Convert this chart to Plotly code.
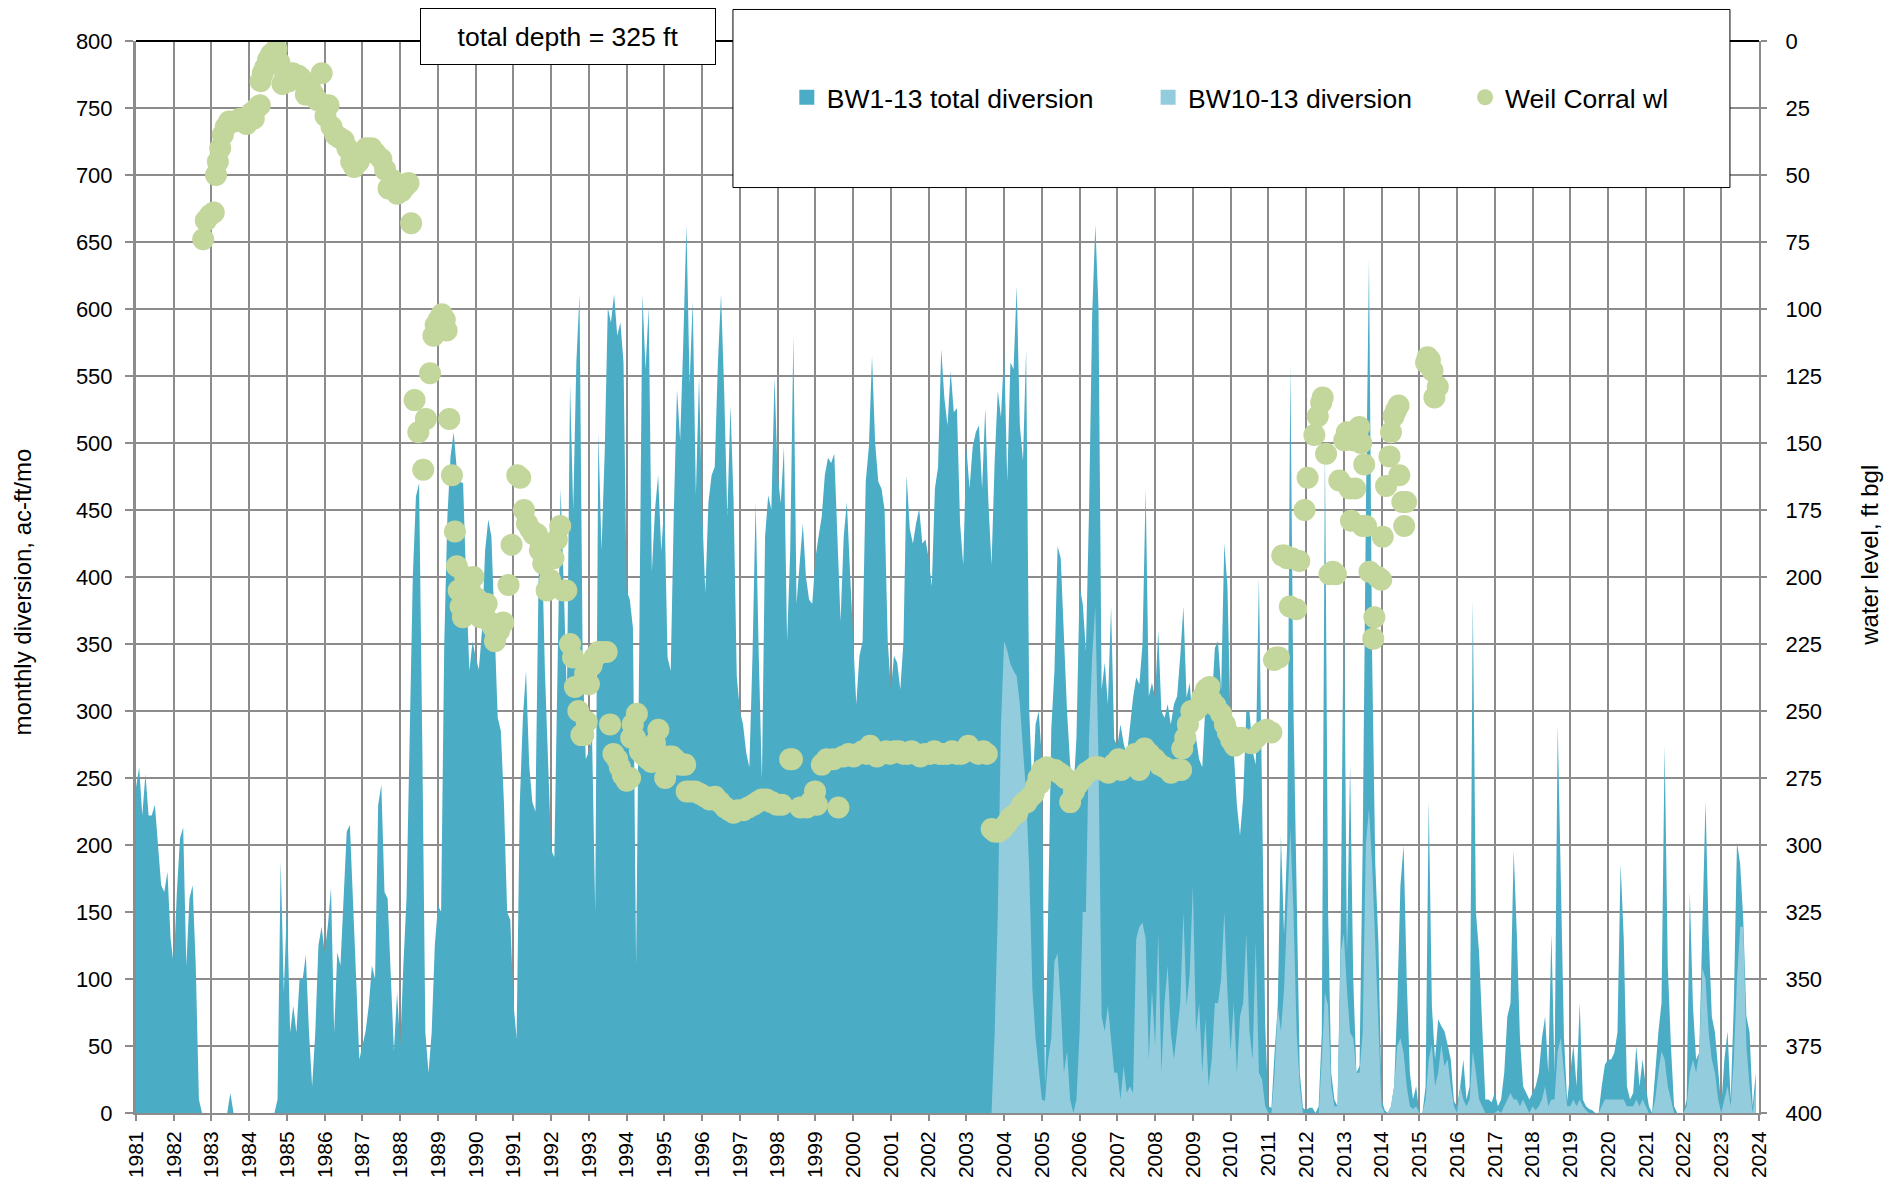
import plotly.graph_objects as go

# ---------------------------------------------------------------------------
# Monthly diversion, ac-ft/mo (Jan..Dec for each year)
# ---------------------------------------------------------------------------
total_1980s = [
    243, 258, 222, 253, 222, 222, 230, 200, 170, 165, 180, 130,   # 1981
    110, 165, 205, 213, 110, 160, 170, 110, 10, 0, 0, 0,          # 1982
    0, 0, 0, 0, 0, 0, 15, 0, 0, 0, 0, 0,                          # 1983
    0, 0, 0, 0, 0, 0, 0, 0, 0, 10, 188, 90,                       # 1984
    155, 60, 80, 60, 100, 100, 118, 60, 20, 60, 125, 139,         # 1985
    120, 140, 168, 60, 120, 110, 160, 210, 215, 150, 100, 40,     # 1986
    50, 61, 80, 110, 100, 230, 245, 165, 160, 100, 46, 90,        # 1987
    50, 110, 160, 280, 400, 460, 470, 280, 60, 30, 60, 125,       # 1988
    155, 150, 350, 445, 490, 508, 480, 471, 470, 393, 330, 352,   # 1989
]
total_1990s = [
    340, 331, 360, 420, 443, 430, 360, 295, 285, 230, 150, 144,   # 1990
    82, 56, 230, 295, 330, 260, 232, 225, 400, 430, 330, 270,     # 1991
    196, 191, 340, 466, 393, 310, 544, 450, 560, 611, 341, 264,   # 1992
    270, 280, 150, 508, 420, 492, 601, 590, 611, 580, 590, 560,   # 1993
    390, 383, 362, 110, 350, 611, 555, 601, 404, 450, 476, 419,   # 1994
    456, 340, 330, 450, 540, 502, 575, 663, 544, 606, 461, 549,   # 1995
    450, 388, 456, 476, 482, 560, 611, 539, 445, 528, 456, 326,   # 1996
    300, 290, 269, 258, 341, 456, 341, 248, 430, 461, 450, 549,   # 1997
    476, 455, 497, 352, 420, 580, 380, 414, 440, 400, 383, 380,   # 1998
    414, 430, 445, 476, 489, 485, 492, 430, 367, 430, 456, 404,   # 1999
]
total_2000s = [
    352, 305, 341, 352, 471, 497, 565, 500, 471, 466, 450, 352,   # 2000
    316, 341, 336, 316, 352, 476, 436, 425, 440, 451, 425, 428,   # 2001
    414, 393, 466, 482, 570, 534, 513, 554, 523, 526, 440, 409,   # 2002
    497, 466, 497, 508, 513, 466, 526, 456, 409, 487, 539, 519,   # 2003
    570, 471, 560, 555, 617, 513, 487, 570, 300, 240, 290, 300,   # 2004
    264, 20, 150, 287, 330, 423, 414, 360, 300, 260, 238, 280,    # 2005
    393, 380, 345, 450, 596, 663, 601, 316, 336, 305, 378, 279,   # 2006
    274, 290, 276, 266, 290, 310, 325, 320, 350, 466, 311, 321,   # 2007
    310, 360, 300, 295, 305, 290, 305, 311, 341, 378, 310, 321,   # 2008
    290, 280, 264, 258, 305, 300, 305, 347, 352, 316, 425, 393,   # 2009
]
total_2010s = [
    290, 270, 230, 207, 235, 300, 300, 270, 260, 399, 238, 66,    # 2010
    5, 4, 46, 80, 207, 134, 202, 559, 300, 150, 30, 4,            # 2011
    2, 4, 4, 0, 5, 60, 497, 150, 30, 10, 5, 134,                  # 2012
    393, 120, 260, 100, 30, 35, 200, 445, 637, 341, 186, 127,     # 2013
    10, 2, 0, 5, 20, 82, 170, 200, 100, 30, 10, 20,               # 2014
    0, 0, 20, 233, 80, 40, 70, 65, 61, 51, 40, 9,                 # 2015
    5, 20, 40, 10, 20, 383, 150, 120, 60, 10, 10, 8,              # 2016
    15, 5, 10, 30, 72, 82, 196, 134, 56, 20, 15, 10,              # 2017
    15, 20, 30, 56, 72, 30, 134, 30, 290, 160, 56, 9,             # 2018
    30, 51, 20, 82, 10, 5, 3, 2, 0, 0, 20, 36,                    # 2019
]
total_2020s = [
    40, 40, 45, 60, 186, 130, 20, 10, 15, 50, 20, 40,             # 2020
    20, 5, 0, 30, 60, 82, 274, 110, 50, 5, 0, 0,                  # 2021
    0, 10, 165, 80, 40, 45, 150, 233, 134, 72, 60, 30,            # 2022
    5, 40, 61, 10, 82, 202, 186, 144, 72, 60, 5, 30,              # 2023
]

# BW10-13 share of the diversion, from 2003 on
bw10_2000s = [
    0, 0, 0, 0, 0, 0, 0, 0, 0, 60, 150, 290,                      # 2003
    352, 345, 335, 330, 326, 305, 270, 238, 180, 92, 56, 30,      # 2004
    10, 9, 40, 56, 113, 119, 82, 30, 46, 10, 0, 10,               # 2005
    60, 150, 150, 280, 341, 378, 264, 72, 61, 80, 56, 30,         # 2006
    30, 10, 35, 15, 20, 15, 130, 139, 142, 130, 40, 92,           # 2007
    50, 134, 30, 82, 110, 60, 40, 60, 82, 150, 80, 103,           # 2008
    170, 60, 82, 30, 70, 20, 40, 82, 82, 100, 150, 90,            # 2009
]
bw10_2010s = [
    46, 82, 30, 72, 82, 134, 61, 40, 128, 30, 25, 5,              # 2010
    0, 0, 30, 80, 61, 92, 150, 212, 150, 60, 20, 0,               # 2011
    0, 0, 0, 0, 0, 40, 90, 80, 20, 5, 5, 120,                     # 2012
    134, 92, 60, 56, 30, 30, 60, 200, 227, 186, 129, 60,          # 2013
    5, 0, 0, 5, 20, 50, 56, 45, 20, 5, 3, 5,                      # 2014
    0, 0, 10, 40, 51, 20, 30, 51, 35, 40, 20, 5,                  # 2015
    0, 20, 10, 5, 10, 46, 30, 10, 5, 0, 0, 0,                     # 2016
    0, 2, 0, 5, 10, 15, 10, 10, 5, 10, 5, 0,                      # 2017
    5, 2, 5, 10, 20, 5, 10, 10, 46, 56, 30, 5,                    # 2018
    5, 10, 5, 10, 5, 2, 0, 0, 0, 0, 5, 10,                        # 2019
]
bw10_2020s = [
    10, 10, 10, 10, 10, 10, 5, 5, 5, 10, 5, 10,                   # 2020
    5, 0, 0, 10, 30, 46, 40, 20, 10, 0, 0, 0,                     # 2021
    0, 5, 30, 40, 30, 45, 108, 100, 60, 40, 30, 10,               # 2022
    0, 10, 20, 5, 40, 100, 139, 139, 50, 20, 0, 20,               # 2023
]

# Weil Corral well: measurement date (decimal year) and depth to water, ft bgl
wl_date = [
    1982.78, 1982.85, 1982.96, 1983.06, 1983.12, 1983.17, 1983.23, 1983.30, 1983.38, 1983.47,
    1983.60, 1983.76, 1983.93, 1984.05, 1984.12, 1984.20, 1984.28, 1984.30, 1984.36, 1984.42,
    1984.50, 1984.58, 1984.66, 1984.72, 1984.80, 1984.88, 1984.95, 1985.05, 1985.15, 1985.30,
    1985.38, 1985.50, 1985.62, 1985.70, 1985.80, 1985.92, 1986.02, 1986.10, 1986.18, 1986.28,
    1986.38, 1986.50, 1986.60, 1986.70, 1986.78, 1986.90, 1987.00, 1987.10, 1987.24, 1987.35,
    1987.50, 1987.60, 1987.69, 1987.80, 1987.92, 1988.04, 1988.15, 1988.22, 1988.29,
    1988.38, 1988.48, 1988.61, 1988.68, 1988.79, 1988.88, 1988.94, 1989.02, 1989.10, 1989.18,
    1989.23, 1989.30, 1989.37, 1989.45, 1989.50, 1989.55, 1989.60, 1989.66, 1989.72, 1989.76,
    1989.85, 1989.94, 1990.03, 1990.12, 1990.22, 1990.29, 1990.38, 1990.47, 1990.51, 1990.62,
    1990.73, 1990.87, 1990.95, 1991.10, 1991.18, 1991.28, 1991.36, 1991.44, 1991.53, 1991.62,
    1991.70, 1991.79, 1991.88, 1991.97, 1992.06, 1992.15, 1992.24, 1992.32, 1992.40, 1992.50,
    1992.58, 1992.63, 1992.72, 1992.80, 1992.85, 1992.90, 1992.94, 1993.00, 1993.07, 1993.15,
    1993.25, 1993.35, 1993.47, 1993.56, 1993.65, 1993.75, 1993.82, 1993.90, 1994.00, 1994.09,
    1994.12, 1994.16, 1994.22, 1994.27, 1994.35, 1994.42, 1994.49, 1994.57, 1994.66, 1994.75,
    1994.84, 1994.93, 1995.02, 1995.11, 1995.20, 1995.28, 1995.40, 1995.50, 1995.55, 1995.59,
    1995.70, 1995.81, 1995.95, 1996.08, 1996.20, 1996.34, 1996.47, 1996.61, 1996.72, 1996.83,
    1996.95, 1997.09, 1997.22, 1997.36, 1997.47, 1997.58, 1997.70, 1997.84, 1997.98, 1998.11,
    1998.33, 1998.38, 1998.60, 1998.77, 1998.88, 1998.99, 1999.04, 1999.17, 1999.30, 1999.48,
    1999.61, 1999.74, 1999.88, 2000.01, 2000.12, 2000.25, 2000.35, 2000.45, 2000.55, 2000.63,
    2000.75, 2000.87, 2000.98, 2001.10, 2001.22, 2001.33, 2001.45, 2001.55, 2001.67, 2001.78,
    2001.90, 2002.04, 2002.15, 2002.28, 2002.39, 2002.50, 2002.62, 2002.75, 2002.87, 2003.05,
    2003.20, 2003.32, 2003.45, 2003.54, 2003.67, 2003.76, 2003.85, 2003.95, 2004.07, 2004.16,
    2004.25, 2004.35, 2004.47, 2004.55, 2004.60, 2004.70, 2004.78, 2004.85, 2004.91, 2004.95,
    2005.01, 2005.13, 2005.25, 2005.35, 2005.45, 2005.55, 2005.62, 2005.75, 2005.85, 2005.97,
    2006.08, 2006.19, 2006.30, 2006.40, 2006.50, 2006.62, 2006.76, 2006.90, 2007.03, 2007.10,
    2007.22, 2007.36, 2007.47, 2007.58, 2007.72, 2007.85, 2008.00, 2008.12, 2008.25, 2008.42,
    2008.55, 2008.69, 2008.72, 2008.80, 2008.87, 2008.96, 2009.05, 2009.13, 2009.25, 2009.35,
    2009.44, 2009.49, 2009.60, 2009.75, 2009.85, 2009.93, 2010.02, 2010.11, 2010.20, 2010.28,
    2010.40, 2010.55, 2010.68, 2010.81, 2010.95, 2011.08, 2011.15, 2011.21, 2011.28, 2011.37,
    2011.43, 2011.50, 2011.57, 2011.62, 2011.74, 2011.82, 2011.96, 2012.04, 2012.22, 2012.31,
    2012.40, 2012.44, 2012.53, 2012.62, 2012.71, 2012.79, 2012.88, 2013.01, 2013.08, 2013.15,
    2013.19, 2013.24, 2013.30, 2013.41, 2013.46, 2013.50, 2013.54, 2013.59, 2013.68, 2013.78,
    2013.81, 2013.90, 2013.99, 2014.03, 2014.12, 2014.21, 2014.25, 2014.32, 2014.38, 2014.45,
    2014.47, 2014.55, 2014.60, 2014.65, 2015.18, 2015.22, 2015.28, 2015.35, 2015.40, 2015.49,
]
wl_depth = [
    74, 67, 65, 64, 50, 45, 40, 35, 32, 30,
    30, 29, 31, 27, 29, 25, 24, 15, 12, 10,
    7, 5, 4, 3, 8, 16, 12, 15, 12, 13,
    14, 20, 18, 20, 22, 12, 28, 24, 32, 35,
    36, 37, 40, 45, 47, 45, 42, 40, 40, 42,
    44, 48, 55, 52, 57, 56, 54, 53, 68,
    134, 146, 160, 141, 124, 110, 106, 104, 102, 104,
    108, 141, 162, 183, 196, 205, 211, 215, 200, 211,
    205, 200, 208, 215, 212, 210, 217, 219, 224, 220,
    217, 203, 188, 162, 163, 175, 180, 182, 184, 184,
    190, 195, 205, 201, 193, 186, 181, 205, 205, 225,
    230, 241, 250, 259, 259, 236, 254, 240, 233, 230,
    228, 228, 228, 255, 266, 268, 271, 274, 276, 275,
    260, 255, 260, 251, 265, 266, 267, 268, 269, 262,
    257, 268, 275, 267, 267, 268, 270, 270, 270, 280,
    280, 280, 281, 282, 283, 282, 284, 286, 287, 288,
    287, 287, 286, 285, 284, 283, 283, 284, 285, 285,
    268, 268, 286, 286, 284, 280, 285, 270, 268, 268,
    286, 267, 266, 267, 266, 265, 266, 263, 265, 267,
    266, 265, 266, 265, 265, 266, 266, 265, 266, 267,
    266, 266, 265, 266, 266, 266, 265, 266, 266, 263,
    265, 266, 265, 266, 294, 295, 295, 294, 292, 290,
    289, 288, 285, 284, 284, 282, 281, 278, 275, 277,
    272, 271, 272, 272, 273, 274, 275, 284, 280, 277,
    275, 273, 272, 271, 271, 272, 273, 270, 268, 272,
    270, 268, 266, 272, 264, 266, 268, 270, 271, 273,
    272, 272, 264, 260, 255, 250, 250, 249, 245, 242,
    241, 246, 248, 251, 255, 258, 261, 263, 262, 260,
    261, 262, 260, 258, 257, 258, 231, 230, 230, 192,
    192, 193, 211, 193, 212, 194, 175, 163, 147, 140,
    135, 133, 154, 199, 198, 199, 164, 149, 146, 167,
    179, 149, 167, 144, 150, 181, 158, 181, 198, 223,
    215, 200, 201, 185, 166, 155, 146, 140, 138, 136,
    162, 172, 181, 172, 120, 118, 119, 123, 133, 129,
]

years = list(range(1981, 2024))
year_ticks = list(range(1981, 2025))

FONT = "Liberation Sans, Arial, Helvetica, sans-serif"
TEAL = "#4BACC6"
LIGHT = "#93CDDD"
GREEN = "#C3D69B"
GRID = "#8C8C8C"

# one x position per month, at the start of the month
month_x = [y + m / 12 for y in years for m in range(12)]
total = total_1980s + total_1990s + total_2000s + total_2010s + total_2020s
bw10 = bw10_2000s + bw10_2010s + bw10_2020s
bw10_x = [x for x in month_x if x >= 2003]

fig = go.Figure()

fig.add_trace(go.Scatter(
    x=month_x, y=total, mode="lines", line=dict(width=0, color=TEAL),
    fill="tozeroy", fillcolor=TEAL, name="BW1-13 total diversion",
    legendgroup="total", showlegend=False,
))
fig.add_trace(go.Scatter(
    x=bw10_x, y=bw10, mode="lines", line=dict(width=0, color=LIGHT),
    fill="tozeroy", fillcolor=LIGHT, name="BW10-13 diversion",
    legendgroup="bw10", showlegend=False,
))
fig.add_trace(go.Scatter(
    x=wl_date, y=wl_depth, yaxis="y2", mode="markers",
    marker=dict(size=22, color=GREEN, line=dict(width=0)),
    name="Weil Corral wl", legend="legend3",
))

# square legend keys for the two area series
fig.add_trace(go.Scatter(
    x=[None], y=[None], mode="markers",
    marker=dict(symbol="square", size=15, color=TEAL),
    name="BW1-13 total diversion", legendgroup="total", legend="legend",
))
fig.add_trace(go.Scatter(
    x=[None], y=[None], mode="markers",
    marker=dict(symbol="square", size=15, color=LIGHT),
    name="BW10-13 diversion", legendgroup="bw10", legend="legend2",
))

legend_common = dict(
    y=0.9473, xanchor="left", yanchor="middle", bgcolor="rgba(0,0,0,0)",
    borderwidth=0, font=dict(family=FONT, size=26.5, color="#000000"),
    orientation="h",
)

fig.update_layout(
    width=1904, height=1185,
    margin=dict(l=136, r=145, t=41, b=72),
    paper_bgcolor="white", plot_bgcolor="white",
    font=dict(family=FONT, size=22, color="#000000"),
    showlegend=True,
    legend=dict(x=0.401, **legend_common),
    legend2=dict(x=0.6236, **legend_common),
    legend3=dict(x=0.8189, **legend_common),
    xaxis=dict(
        range=[1981, 2024], tickmode="array", tickvals=year_ticks,
        ticktext=[str(y) for y in year_ticks], tickangle=-90,
        showgrid=True, gridcolor=GRID, gridwidth=2,
        ticks="outside", ticklen=6, tickcolor=GRID, tickwidth=2,
        showline=True, linecolor=GRID, linewidth=2, zeroline=False,
        tickfont=dict(size=21), ticklabelstandoff=2, automargin=False,
    ),
    yaxis=dict(
        range=[0, 800], tickmode="linear", tick0=0, dtick=50,
        showgrid=True, gridcolor=GRID, gridwidth=1.6,
        ticks="outside", ticklen=8, tickcolor=GRID, tickwidth=2,
        showline=True, linecolor=GRID, linewidth=3, zeroline=False,
        tickfont=dict(size=22), ticklabelstandoff=8, automargin=False,
    ),
    yaxis2=dict(
        overlaying="y", side="right", range=[400, 0],
        tickmode="linear", tick0=0, dtick=25, showgrid=False,
        ticks="outside", ticklen=6, tickcolor=GRID, tickwidth=2,
        showline=True, linecolor=GRID, linewidth=2, zeroline=False,
        tickfont=dict(size=22), ticklabelstandoff=14, automargin=False,
    ),
    shapes=[
        # black frame line along the top of the plot area
        dict(type="line", xref="paper", yref="paper", x0=0, x1=1, y0=1, y1=1,
             line=dict(color="#000000", width=2), layer="above"),
        # legend panel
        dict(type="rect", xref="paper", yref="paper",
             x0=0.3678, x1=0.9821, y0=0.8633, y1=1.0294,
             fillcolor="white", line=dict(color="#000000", width=1), layer="above"),
    ],
    annotations=[
        dict(text="total depth = 325 ft", xref="paper", yref="paper",
             x=0.2662, y=1.0042, xanchor="center", yanchor="middle",
             showarrow=False, bgcolor="white", bordercolor="#000000",
             borderwidth=1, borderpad=0, width=294, height=55,
             font=dict(family=FONT, size=26.5, color="#000000")),
        # axis titles
        dict(text="monthly diversion, ac-ft/mo", xref="paper", yref="paper",
             x=-0.0702, y=0.4857, xanchor="center", yanchor="middle",
             textangle=-90, showarrow=False,
             font=dict(family=FONT, size=24, color="#000000")),
        dict(text="water level, ft bgl", xref="paper", yref="paper",
             x=1.0684, y=0.5198, xanchor="center", yanchor="middle",
             textangle=-90, showarrow=False,
             font=dict(family=FONT, size=24, color="#000000")),
    ],
)

fig.write_html("out.html")
